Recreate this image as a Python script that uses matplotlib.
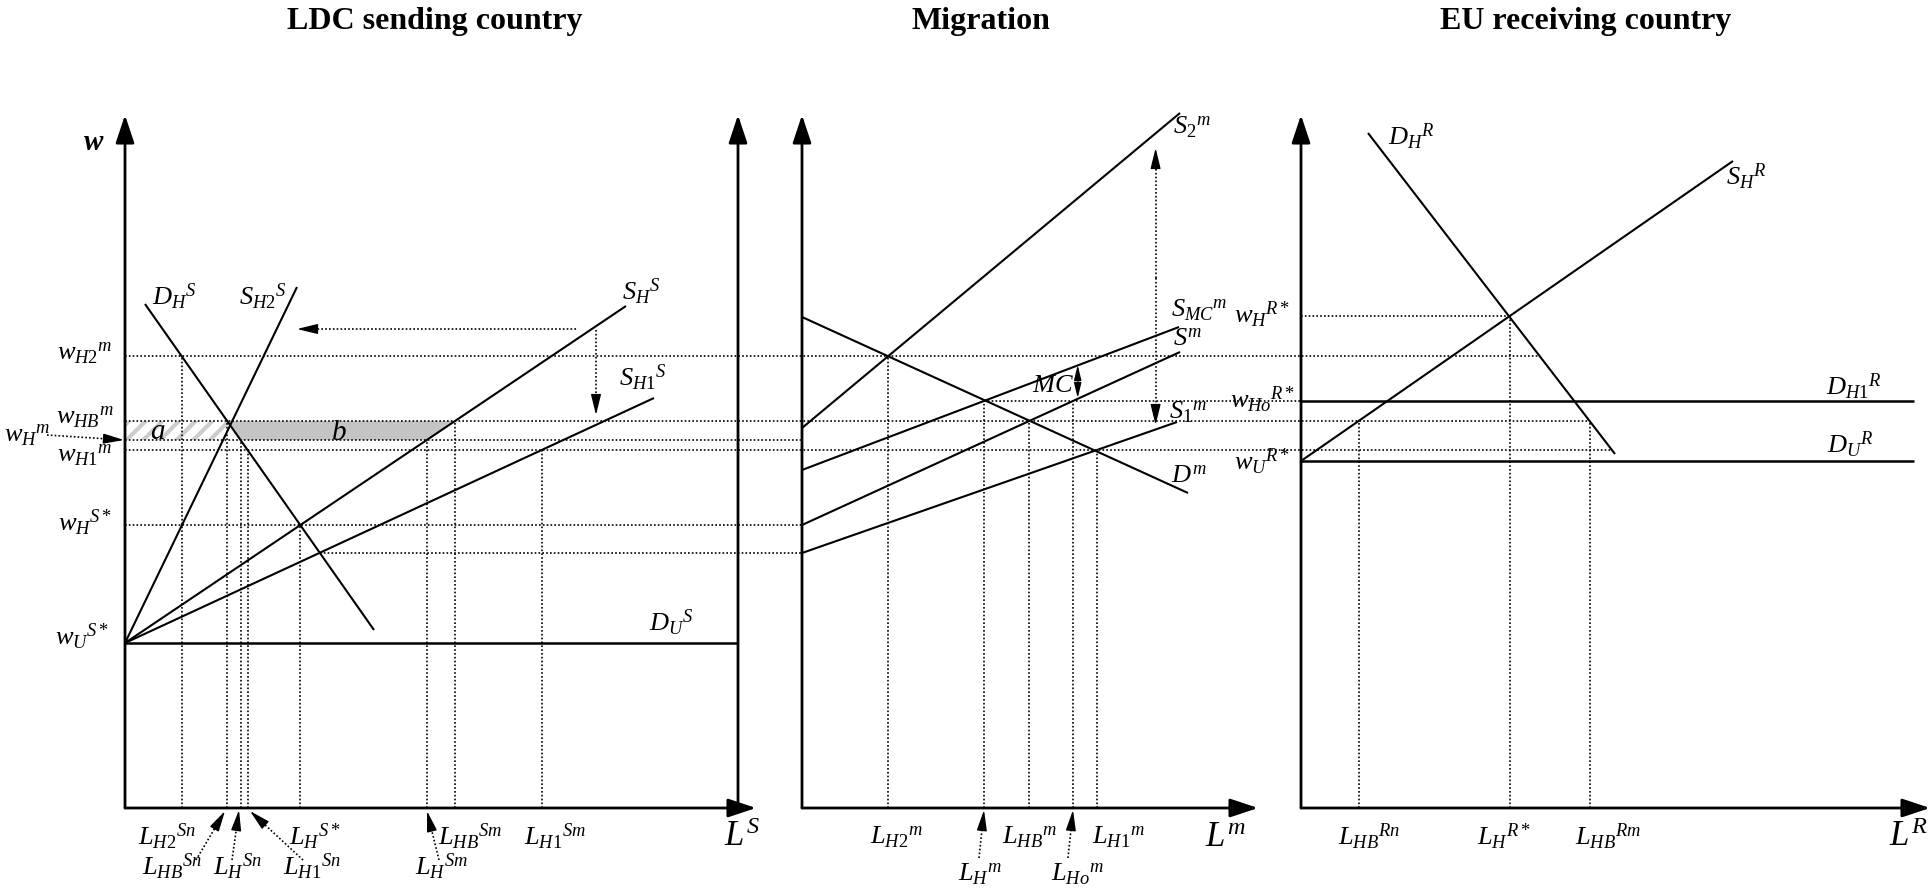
import numpy as np
import matplotlib.pyplot as plt
from matplotlib.patches import Polygon

plt.rcParams['font.family'] = ['Liberation Serif', 'DejaVu Serif']
plt.rcParams['mathtext.fontset'] = 'custom'
plt.rcParams['mathtext.rm'] = 'Liberation Serif'
plt.rcParams['mathtext.it'] = 'Liberation Serif:italic'
plt.rcParams['mathtext.bf'] = 'Liberation Serif:bold:italic'
plt.rcParams['hatch.linewidth'] = 3

# diagram units: x across the figure, y = height above the horizontal axes
panel_x0 = [125, 802, 1301]
panel_x1 = [756, 1258, 1930]
ldc_right = 738
axis_top = 693

# wage levels
w_U_S, w_low, w_H_S = 165, 255, 283
w_H1, w_H, w_HB, w_Ho, w_H2 = 358, 368, 387, 407, 452
w_R, w_U_R = 492, 347

# LDC sending country curves (start, end)
D_H_S = [(145, 504), (374, 178)]
S_H2_S = [(125, 165), (297, 521)]
S_H_S = [(125, 165), (626, 502)]
S_H1_S = [(125, 165), (654, 410)]

# migration curves
S_2_m = [(802, 380), (1180, 695)]
D_m = [(802, 491), (1188, 315)]
S_MC_m = [(802, 338), (1179, 481)]
S_m = [(802, 283), (1180, 456)]
S_1_m = [(802, 255), (1177, 386)]

# EU receiving country curves
D_H_R = [(1368, 675), (1615, 354)]
S_H_R = [(1301, 347), (1733, 647)]
D_H1_R = [(1301, w_Ho), (1914, w_Ho)]
D_U_R = [(1301, w_U_R), (1914, w_U_R)]


def x_at(seg, y):
    (x0, y0), (x1, y1) = seg
    return x0 + (y - y0) * (x1 - x0) / (y1 - y0)


def line(seg, lw=1.5):
    (x0, y0), (x1, y1) = seg
    ax.plot([x0, x1], [y0, y1], color='k', lw=lw, solid_capstyle='butt')


def dot(xs, ys):
    ax.plot(xs, ys, color='k', lw=1.2, ls=(0, (1, 1.3)))


def dot_arrow(start, end, ms=14):
    start = np.array(start, float)
    end = np.array(end, float)
    d = (end - start) / np.hypot(*(end - start))
    dot([start[0], end[0] - 6 * d[0]], [start[1], end[1] - 6 * d[1]])
    ax.annotate('', xy=end, xytext=end - 14 * d,
                arrowprops=dict(arrowstyle='-|>,head_length=0.9,head_width=0.22',
                                color='k', lw=1, mutation_scale=ms,
                                shrinkA=0, shrinkB=0))


def axis_arrow(start, end):
    ax.annotate('', xy=end, xytext=start,
                arrowprops=dict(arrowstyle='-|>,head_length=0.9,head_width=0.3',
                                color='k', lw=2, mutation_scale=19,
                                shrinkA=0, shrinkB=0))


def lab(x, y, s, size=19, **kw):
    ax.text(x, y, s, fontsize=size, ha='center', va='center', **kw)


fig = plt.figure(figsize=(19.32, 8.91), dpi=100)
ax = fig.add_axes([0, 0, 1, 1])
ax.set_xlim(0, 1932)
ax.set_ylim(-83, 808)
ax.axis('off')

# titles
lab(435, 786, 'LDC sending country', size=23, fontweight='bold')
lab(981, 786, 'Migration', size=23, fontweight='bold')
lab(1586, 786, 'EU receiving country', size=23, fontweight='bold')

# axes
for x0, x1 in zip(panel_x0, panel_x1):
    axis_arrow((x0, 0), (x0, axis_top))
    axis_arrow((x0, 0), (x1, 0))
axis_arrow((ldc_right, 0), (ldc_right, axis_top))

# shaded areas a and b
a_poly = [(panel_x0[0], w_H), (panel_x0[0], w_HB),
          (x_at(S_H2_S, w_HB), w_HB), (x_at(S_H2_S, w_H), w_H)]
b_poly = [(x_at(D_H_S, w_HB), w_HB), (x_at(S_H_S, w_HB), w_HB),
          (x_at(S_H_S, w_H), w_H), (x_at(D_H_S, w_H), w_H)]
ax.add_patch(Polygon(a_poly, closed=True, facecolor='white',
                     edgecolor='#cdcdcd', hatch='//', lw=0))
ax.add_patch(Polygon(b_poly, closed=True, facecolor='#c4c4c4', lw=0))

# horizontal dotted guides
dot([125, x_at(D_H_R, w_H2)], [w_H2, w_H2])
dot([125, x_at(D_H_R, w_HB)], [w_HB, w_HB])
dot([125, 802], [w_H, w_H])
dot([125, x_at(D_H_R, w_H1)], [w_H1, w_H1])
dot([125, 802], [w_H_S, w_H_S])
dot([x_at(D_H_S, w_low), 802], [w_low, w_low])
dot([x_at(S_MC_m, w_Ho), 1301], [w_Ho, w_Ho])
dot([1301, x_at(S_H_R, w_R)], [w_R, w_R])

# vertical dotted guides
for seg, w in [(D_H_S, w_H2), (D_H_S, w_HB), (D_H_S, w_H), (D_H_S, w_H1),
               (D_H_S, w_H_S), (S_H_S, w_H), (S_H_S, w_HB), (S_H1_S, w_H1),
               (S_2_m, w_H2), (S_MC_m, w_Ho), (S_m, w_HB), (S_m, w_Ho),
               (S_1_m, w_H1), (S_H_R, w_HB), (S_H_R, w_R), (D_H_R, w_HB)]:
    x = x_at(seg, w)
    dot([x, x], [0, w])

# curves
for seg in [D_H_S, S_H2_S, S_H_S, S_H1_S, S_2_m, D_m, S_MC_m, S_m, S_1_m,
            D_H_R, S_H_R]:
    line(seg)
line([(125, w_U_S), (ldc_right, w_U_S)], lw=1.8)
line(D_H1_R, lw=1.8)
line(D_U_R, lw=1.8)

# shift arrows
dot_arrow((576, 479), (297, 479))
dot_arrow((596, 478), (596, 393))
dot_arrow((47, 373), (124, 368))
dot_arrow((1155.6, 530), (1155.6, 660))
dot_arrow((1155.6, 530), (1155.6, 383))
mc_x = 1077.7
dot_arrow((mc_x, 428), (mc_x, 443), ms=10)
dot_arrow((mc_x, 428), (mc_x, 410), ms=10)

# arrows from axis labels
dot_arrow((196, -52), (225, -3))
dot_arrow((232, -52), (239, -2))
dot_arrow((303, -52), (250, -3))
dot_arrow((439, -52), (427, -3))
dot_arrow((979, -50), (984, -2))
dot_arrow((1068, -50), (1073, -2))

# left panel labels
ax.text(94, 665, 'w', fontsize=21, style='italic', fontweight='bold',
        ha='center', va='center')
lab(85, 455, r'$w_{H2}{}^{m}$')
lab(85, 391, r'$w_{HB}{}^{m}$')
lab(27, 373, r'$w_{H}{}^{m}$')
lab(85, 353, r'$w_{H1}{}^{m}$')
lab(85, 285, r'$w_{H}{}^{S*}$')
lab(82, 171, r'$w_{U}{}^{S*}$')
lab(174, 511, r'$D_{H}{}^{S}$')
lab(263, 511, r'$S_{H2}{}^{S}$')
lab(641, 516, r'$S_{H}{}^{S}$')
lab(643, 430, r'$S_{H1}{}^{S}$')
lab(671, 185, r'$D_{U}{}^{S}$')
lab(158, 376, r'$a$', size=21)
lab(339, 375, r'$b$', size=21)
lab(167, -29, r'$L_{H2}{}^{Sn}$')
lab(172, -59, r'$L_{HB}{}^{Sn}$')
lab(237, -59, r'$L_{H}{}^{Sn}$')
lab(312, -59, r'$L_{H1}{}^{Sn}$')
lab(315, -29, r'$L_{H}{}^{S*}$')
lab(470, -29, r'$L_{HB}{}^{Sm}$')
lab(555, -29, r'$L_{H1}{}^{Sm}$')
lab(441, -59, r'$L_{H}{}^{Sm}$')
lab(742, -29, r'$L^{S}$', size=25)

# migration labels
lab(1192, 681, r'$S_{2}{}^{m}$')
lab(1199, 498, r'$S_{MC}{}^{m}$')
lab(1188, 468, r'$S^{m}$')
lab(1188, 396, r'$S_{1}{}^{m}$')
lab(1189, 331, r'$D^{m}$')
lab(1053, 422, r'$MC$')
lab(896, -29, r'$L_{H2}{}^{m}$')
lab(1029, -29, r'$L_{HB}{}^{m}$')
lab(1118, -29, r'$L_{H1}{}^{m}$')
lab(1225, -30, r'$L^{m}$', size=25)
lab(980, -66, r'$L_{H}{}^{m}$')
lab(1077, -66, r'$L_{Ho}{}^{m}$')

# receiving country labels
lab(1262, 493, r'$w_{H}{}^{R*}$')
lab(1263, 408, r'$w_{Ho}{}^{R*}$')
lab(1262, 346, r'$w_{U}{}^{R*}$')
lab(1411, 671, r'$D_{H}{}^{R}$')
lab(1746, 631, r'$S_{H}{}^{R}$')
lab(1854, 421, r'$D_{H1}{}^{R}$')
lab(1850, 363, r'$D_{U}{}^{R}$')
lab(1369, -29, r'$L_{HB}{}^{Rn}$')
lab(1504, -29, r'$L_{H}{}^{R*}$')
lab(1608, -29, r'$L_{HB}{}^{Rm}$')
lab(1908, -29, r'$L^{R}$', size=25)

fig.savefig('out.png', dpi=100)
